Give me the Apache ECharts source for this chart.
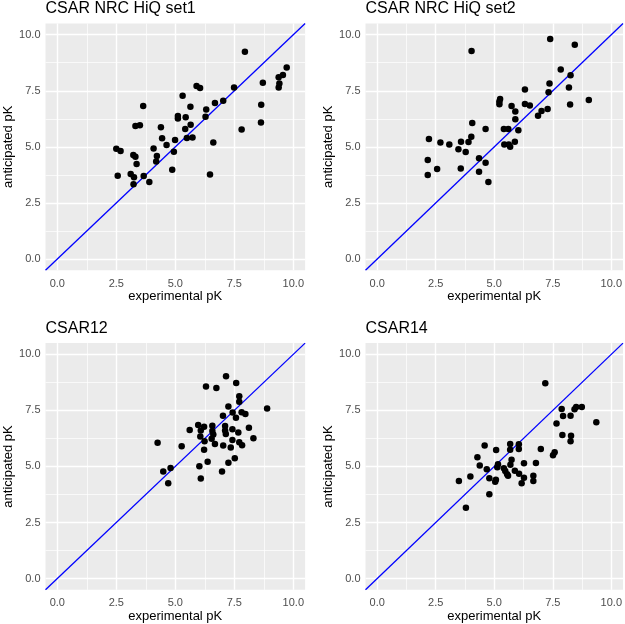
<!DOCTYPE html>
<html>
<head>
<meta charset="utf-8">
<script src="https://cdn.jsdelivr.net/npm/echarts@6/dist/echarts.min.js"></script>
<style>
html, body { margin: 0; padding: 0; background: #fff; }
#chart { width: 625px; height: 624px; }
</style>
</head>
<body>
<div id="chart"></div>
<script>
// panel titles
var panelTitles = ['CSAR NRC HiQ set1', 'CSAR NRC HiQ set2', 'CSAR12', 'CSAR14'];

// [experimental pK, anticipated pK]
var set1Points = [
  [2.50, 4.92], [2.68, 4.82], [2.56, 3.71], [3.22, 4.64], [3.31, 4.56], [3.11, 3.79],
  [3.25, 3.64], [3.23, 3.33], [3.36, 4.23], [3.31, 5.93], [3.50, 5.96], [3.64, 6.82],
  [3.66, 3.70], [3.90, 3.43], [4.08, 4.93], [4.22, 4.59], [4.19, 4.35], [4.39, 5.87],
  [4.44, 5.38], [4.63, 5.08], [4.87, 3.98], [4.94, 4.78], [4.99, 5.30], [5.31, 7.28],
  [5.11, 6.37], [5.11, 6.26], [5.44, 6.32], [5.42, 5.80], [5.49, 5.39], [5.64, 6.79],
  [5.65, 5.99], [5.73, 5.42], [5.90, 7.71], [6.05, 7.62], [6.28, 6.34], [6.31, 6.67],
  [6.68, 6.95], [6.61, 5.19], [6.47, 3.77], [7.03, 7.06], [7.49, 7.65], [7.95, 9.24],
  [7.81, 5.77], [8.64, 6.88], [8.63, 6.09], [8.71, 7.86], [9.38, 8.10], [9.56, 8.20],
  [9.72, 8.54], [9.38, 7.65], [9.41, 7.83]
];
var set2Points = [
  [2.16, 3.74], [2.16, 4.41], [2.21, 5.35], [2.56, 4.01], [2.70, 5.19], [3.08, 5.10],
  [3.47, 4.89], [3.58, 5.23], [3.57, 4.03], [3.78, 4.77], [3.90, 5.22], [4.02, 5.45],
  [4.06, 6.06], [4.03, 9.27], [4.35, 4.49], [4.35, 3.89], [4.63, 5.80], [4.63, 4.29],
  [4.75, 3.43], [5.25, 7.13], [5.22, 7.02], [5.22, 6.90], [5.41, 5.80], [5.60, 5.80],
  [5.43, 5.11], [5.62, 5.10], [5.68, 5.00], [5.74, 6.82], [5.90, 6.58], [5.90, 6.23],
  [6.03, 5.74], [5.88, 5.23], [6.31, 7.56], [6.31, 6.91], [6.52, 6.84], [6.87, 6.39],
  [7.02, 6.60], [7.28, 6.69], [7.32, 7.43], [7.36, 7.83], [7.39, 9.81], [7.84, 8.45],
  [8.26, 8.19], [8.19, 7.65], [8.24, 6.89], [8.44, 9.55], [9.04, 7.09]
];
var csar12Points = [
  [4.25, 6.06], [4.49, 4.77], [4.80, 4.93], [4.70, 4.25], [5.27, 5.90], [5.61, 6.63],
  [5.97, 6.85], [6.22, 6.77], [6.57, 6.82], [7.11, 6.80], [7.42, 6.66], [8.12, 6.73],
  [6.08, 6.60], [6.57, 6.58], [7.11, 6.60], [7.14, 6.45], [7.67, 6.51], [6.06, 6.33],
  [6.61, 6.43], [6.24, 6.12], [6.54, 6.23], [6.68, 6.00], [7.42, 6.18], [7.71, 6.08],
  [8.31, 6.26], [7.03, 5.93], [7.35, 5.84], [7.83, 5.94], [6.22, 5.74], [7.52, 5.37],
  [7.25, 5.17], [6.37, 5.21], [6.02, 5.01], [6.98, 4.77], [6.08, 4.46], [7.15, 9.02],
  [6.30, 8.56], [6.74, 8.50], [7.58, 8.72], [7.71, 8.13], [7.71, 7.89], [8.89, 7.58],
  [7.25, 7.67], [7.43, 7.40], [7.81, 7.42], [7.97, 7.34], [7.02, 7.26], [7.57, 7.17]
];
var csar14Points = [
  [3.49, 4.35], [3.79, 3.16], [3.98, 4.55], [4.28, 5.41], [4.38, 5.04], [4.59, 5.93],
  [4.68, 4.88], [4.79, 4.47], [4.79, 3.76], [5.04, 4.32], [5.07, 4.41], [5.08, 5.73],
  [5.13, 4.96], [5.16, 5.10], [5.41, 4.92], [5.47, 4.80], [5.55, 4.65], [5.59, 4.58],
  [5.68, 6.00], [5.68, 5.75], [5.69, 5.08], [5.74, 5.30], [5.88, 4.81], [6.05, 5.99],
  [6.05, 5.78], [6.06, 4.67], [6.17, 4.25], [6.27, 5.14], [6.27, 4.50], [6.67, 4.58],
  [6.67, 4.35], [6.78, 5.15], [6.99, 5.78], [7.18, 8.71], [7.51, 5.50], [7.58, 5.63],
  [7.66, 6.92], [7.88, 7.56], [7.91, 6.40], [7.94, 7.25], [8.26, 7.26], [8.26, 6.12],
  [8.28, 6.37], [8.43, 7.55], [8.50, 7.65], [8.74, 7.65], [9.36, 6.97]
];

// axis ticks (ggplot style major / minor breaks)
var majorTicks = [0, 2.5, 5, 7.5, 10];
var minorTicks = [1.25, 3.75, 6.25, 8.75];
var axisRange = [-0.5, 10.5];

var panelData = [set1Points, set2Points, csar12Points, csar14Points];

// grid boxes in px
var boxes = [
  { left: 45.5, top: 23.5 },
  { left: 365.5, top: 23.5 },
  { left: 45.5, top: 343.1 },
  { left: 365.5, top: 343.1 }
];
var boxW = 259.6, boxH = 246.7;
var font = 'Liberation Sans, Arial, sans-serif';

var chart = echarts.init(document.getElementById('chart'));

var grids = [], xAxes = [], yAxes = [], titles = [], series = [];

for (var i = 0; i < 4; i++) {
  var b = boxes[i];
  grids.push({
    left: b.left, top: b.top, width: boxW, height: boxH,
    show: true, backgroundColor: '#ebebeb', borderWidth: 0
  });
  titles.push({
    text: panelTitles[i],
    left: b.left, top: b.top - 22.5, padding: 0,
    textStyle: { fontFamily: font, fontSize: 16, fontWeight: 'normal', color: '#000' }
  });
  var axisCommon = {
    type: 'value', gridIndex: i,
    min: axisRange[0], max: axisRange[1],
    axisLine: { show: false },
    splitLine: { show: false },
    axisTick: { show: true, customValues: majorTicks, length: 3, lineStyle: { color: '#333', width: 1 } },
    nameLocation: 'middle',
    nameTextStyle: { fontFamily: font, fontSize: 13, color: '#000' }
  };
  xAxes.push(Object.assign({}, axisCommon, {
    name: 'experimental pK', nameGap: 19,
    axisLabel: { customValues: majorTicks, margin: 8, color: '#4d4d4d', fontSize: 11, fontFamily: font,
      formatter: function (v) { return v.toFixed(1); } }
  }));
  yAxes.push(Object.assign({}, axisCommon, {
    name: 'anticipated pK', nameGap: 31,
    axisLabel: { customValues: majorTicks, margin: 5, color: '#4d4d4d', fontSize: 11, fontFamily: font,
      formatter: function (v) { return v.toFixed(1); } }
  }));

  // white grid lines
  var lines = [];
  majorTicks.forEach(function (v) {
    lines.push({ xAxis: v, lineStyle: { width: 1.4 } });
    lines.push({ yAxis: v, lineStyle: { width: 1.4 } });
  });
  minorTicks.forEach(function (v) {
    lines.push({ xAxis: v, lineStyle: { width: 0.7 } });
    lines.push({ yAxis: v, lineStyle: { width: 0.7 } });
  });
  // y = x reference line, carries the grid lines as markLine
  series.push({
    type: 'line', xAxisIndex: i, yAxisIndex: i, z: 2,
    data: [[axisRange[0], axisRange[0]], [axisRange[1], axisRange[1]]],
    symbol: 'none', lineStyle: { color: '#0000ff', width: 1.3 }, silent: true,
    markLine: {
      z: 1, silent: true, symbol: ['none', 'none'], label: { show: false },
      lineStyle: { color: '#ffffff', type: 'solid', opacity: 1 },
      emphasis: { disabled: true },
      animation: false, data: lines
    }
  });
  series.push({
    type: 'scatter', xAxisIndex: i, yAxisIndex: i, z: 3,
    data: panelData[i], symbolSize: 6.5,
    itemStyle: { color: '#000', opacity: 1 }
  });
}

chart.setOption({
  animation: false,
  title: titles,
  grid: grids,
  xAxis: xAxes,
  yAxis: yAxes,
  series: series
});
</script>
</body>
</html>
